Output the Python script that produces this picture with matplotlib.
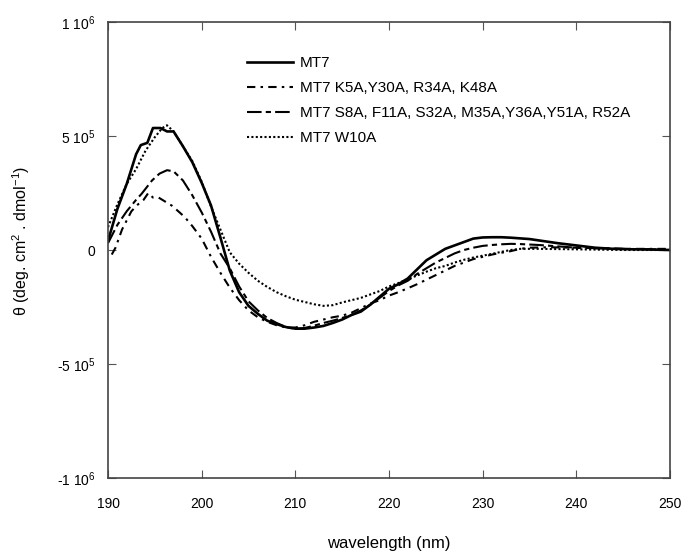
import matplotlib
matplotlib.use("Agg")
import matplotlib.pyplot as plt
import numpy as np

plt.rcParams['font.family'] = ['Liberation Sans', 'DejaVu Sans']
plt.rcParams['mathtext.fontset'] = 'custom'
plt.rcParams['mathtext.rm'] = 'Liberation Sans'
plt.rcParams['mathtext.it'] = 'Liberation Sans:italic'
plt.rcParams['mathtext.bf'] = 'Liberation Sans:bold'

# ---- data ----
wl_mt7 = [190, 191, 192, 193, 193.5, 194.2, 194.8, 195.6, 196.3, 197, 198, 199, 200, 201, 202,
          203, 204, 205, 206, 207, 208, 209, 210, 211, 212, 213, 214, 215, 216, 217, 218, 219,
          220, 221, 222, 223, 224, 225, 226, 227, 228, 229, 230, 231, 232, 233, 234, 235, 236,
          237, 238, 240, 242, 244, 246, 248, 250]
th_mt7 = [4e4, 1.8e5, 2.9e5, 4.2e5, 4.6e5, 4.7e5, 5.35e5, 5.35e5, 5.2e5, 5.2e5, 4.55e5, 3.85e5,
          2.95e5, 1.95e5, 5.5e4, -9e4, -1.85e5, -2.45e5, -2.8e5, -3.1e5, -3.25e5, -3.38e5,
          -3.45e5, -3.45e5, -3.4e5, -3.33e5, -3.2e5, -3.05e5, -2.85e5, -2.7e5, -2.4e5, -2.05e5,
          -1.7e5, -1.5e5, -1.25e5, -8.5e4, -4.5e4, -2e4, 5e3, 2e4, 3.5e4, 5e4, 5.5e4, 5.6e4,
          5.6e4, 5.4e4, 5.1e4, 4.8e4, 4.2e4, 3.6e4, 3e4, 2e4, 1e4, 5e3, 3e3, 2e3, 0]

wl_k5a = [190.4, 190.8, 191.5, 192, 192.5, 193.2, 193.8, 194.3, 194.8, 195.4, 196, 196.8, 197.5,
          198.2, 199, 200, 201, 202, 203, 204, 205, 206, 207, 208, 209, 210, 211, 212, 213, 214,
          215, 216, 217, 218, 219, 220, 221, 222, 223, 224, 225, 226, 227, 228, 229, 230, 231,
          232, 233, 234, 235, 237, 240, 245, 250]
th_k5a = [-2e4, 1e4, 9e4, 1.3e5, 1.7e5, 2e5, 2.2e5, 2.5e5, 2.3e5, 2.3e5, 2.15e5, 1.95e5, 1.7e5,
          1.44e5, 1.05e5, 5e4, -3e4, -1e5, -1.65e5, -2.2e5, -2.65e5, -2.95e5, -3.15e5, -3.3e5,
          -3.4e5, -3.4e5, -3.3e5, -3.15e5, -3.05e5, -2.95e5, -2.88e5, -2.75e5, -2.55e5, -2.35e5,
          -2.2e5, -2e5, -1.85e5, -1.68e5, -1.5e5, -1.3e5, -1.1e5, -9e4, -7e4, -5.5e4, -4e4,
          -3e4, -2e4, -1.2e4, -5e3, 5e3, 1e4, 1.2e4, 1e4, 5e3, 5e3]

wl_s8a = [190, 191, 192, 193, 193.6, 194.7, 195.5, 196.3, 197, 198, 199, 200, 201, 202, 203, 204,
          205, 206, 207, 208, 209, 210, 211, 212, 213, 214, 215, 216, 217, 218, 219, 220, 221,
          222, 223, 224, 225, 226, 227, 228, 229, 230, 231, 232, 233, 234, 236, 238, 240, 245, 250]
th_s8a = [3e4, 1.1e5, 1.7e5, 2.2e5, 2.47e5, 3.05e5, 3.35e5, 3.5e5, 3.45e5, 3.05e5, 2.4e5, 1.65e5,
          8e4, -1.5e4, -8e4, -1.6e5, -2.25e5, -2.65e5, -2.98e5, -3.2e5, -3.38e5, -3.46e5,
          -3.42e5, -3.32e5, -3.2e5, -3.1e5, -2.98e5, -2.85e5, -2.65e5, -2.4e5, -2.1e5, -1.8e5,
          -1.55e5, -1.35e5, -1.05e5, -8e4, -5.5e4, -3.5e4, -1.5e4, 0, 1e4, 1.8e4, 2.2e4, 2.5e4,
          2.7e4, 2.6e4, 2.2e4, 1.6e4, 1e4, 5e3, 2e3]

wl_w10a = [190, 191, 192, 193, 194, 195, 195.8, 196.3, 197, 198, 199, 200, 201, 202, 203, 204,
           205, 206, 207, 208, 209, 210, 211, 212, 213, 214, 215, 216, 217, 218, 219, 220, 221,
           222, 223, 224, 225, 226, 227, 228, 229, 230, 231, 232, 233, 234, 236, 240, 245, 250]
th_w10a = [1e5, 2e5, 2.9e5, 3.55e5, 4.35e5, 4.95e5, 5.35e5, 5.47e5, 5.2e5, 4.55e5, 3.9e5, 3e5,
           1.9e5, 9e4, -1e4, -6e4, -1e5, -1.35e5, -1.62e5, -1.85e5, -2.03e5, -2.18e5, -2.28e5,
           -2.38e5, -2.45e5, -2.42e5, -2.3e5, -2.2e5, -2.1e5, -1.95e5, -1.8e5, -1.6e5, -1.45e5,
           -1.28e5, -1.12e5, -9.5e4, -8e4, -7e4, -5.5e4, -4.3e4, -3.3e4, -2.5e4, -1.7e4, -8e3,
           0, 5e3, 5e3, 3e3, 0, 0]

labels = ["MT7", "MT7 K5A,Y30A, R34A, K48A",
          "MT7 S8A, F11A, S32A, M35A,Y36A,Y51A, R52A", "MT7 W10A"]

x_ticks = [190, 200, 210, 220, 230, 240, 250]
y_ticks = [-1e6, -5e5, 0, 5e5, 1e6]
y_tick_labels = [r'-1 10$^{6}$', r'-5 10$^{5}$', '0', r'5 10$^{5}$', r'1 10$^{6}$']

# ---- figure ----
fig = plt.figure(figsize=(6.82, 5.54), dpi=100)
ax = fig.add_axes([108/682, 1-478/554, (670-108)/682, (478-22)/554])

lw = 1.5
ax.plot(wl_mt7, th_mt7, color='black', lw=1.9, ls='-', label=labels[0])
ax.plot(wl_k5a, th_k5a, color='black', lw=lw, ls=(0, (4, 2.5, 1.2, 2.5)), label=labels[1])
ax.plot(wl_s8a, th_s8a, color='black', lw=lw, ls=(0, (7, 2, 2.5, 2)), label=labels[2])
ax.plot(wl_w10a, th_w10a, color='black', lw=lw, ls=(0, (1, 1.1)), label=labels[3])

ax.set_xlim(190, 250)
ax.set_ylim(-1e6, 1e6)
ax.set_xticks(x_ticks)
ax.set_xticklabels([str(t) for t in x_ticks])
ax.set_yticks(y_ticks)
ax.set_yticklabels(y_tick_labels)

ax.tick_params(axis='both', direction='in', length=6, width=0.8, color='#555555',
               top=True, right=True, labelsize=10)
ax.tick_params(axis='x', pad=14)
ax.tick_params(axis='y', pad=9)
for s in ax.spines.values():
    s.set_linewidth(1.2)
    s.set_color('#444444')

ax.set_xlabel('wavelength (nm)', fontsize=12)
ax.xaxis.set_label_coords(0.5, -0.127)
ax.set_ylabel(r'θ (deg. cm$^{2}$ . dmol$^{-1}$)', fontsize=11.5)
ax.yaxis.set_label_coords(-0.135, 0.52)

leg = ax.legend(loc='upper left', bbox_to_anchor=(0.2224, 0.955), frameon=False,
                fontsize=11, handlelength=3.0, handletextpad=0.5, labelspacing=0.72)

fig.savefig('out.png', dpi=100)
